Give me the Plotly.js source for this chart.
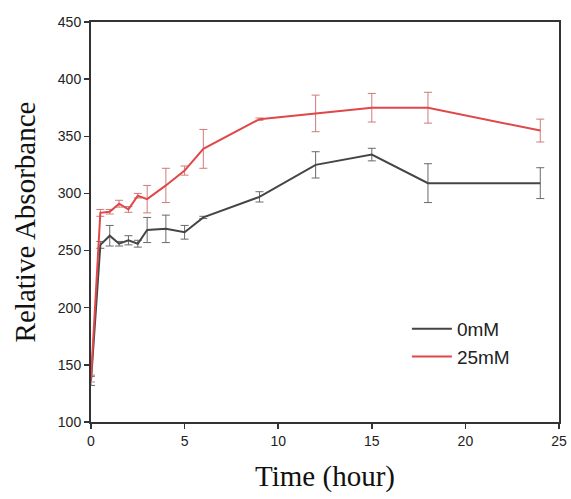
<!DOCTYPE html>
<html>
<head>
<meta charset="utf-8">
<script src="https://cdn.plot.ly/plotly-3.0.1.min.js"></script>
<style>html,body{margin:0;padding:0;background:#fff;}#chart{width:571px;height:499px;}</style>
</head>
<body>
<div id="chart"></div>
<script>
const time = [0, 0.5, 1, 1.5, 2, 2.5, 3, 4, 5, 6, 9, 12, 15, 18, 24];
const ctrlValues = [136, 255, 263, 256, 259, 256, 268, 269, 266, 279, 297, 325, 334, 309, 309];
const ctrlErrors = [4, 3, 9, 2, 4, 3, 11, 12, 6, 1, 4.5, 11.5, 5.5, 17, 13.5];
const treatValues = [138, 283, 284, 291, 286, 298, 295, 307, 320, 339, 365, 370, 375, 375, 355];
const treatErrors = [3, 3, 2, 3, 2.5, 2, 12, 15, 4, 17, 1, 16, 12.5, 13.5, 10];
const seriesNames = ['0mM', '25mM'];
const xTicks = [0, 5, 10, 15, 20, 25];
const yTicks = [100, 150, 200, 250, 300, 350, 400, 450];

const traces = [
  {
    x: time, y: ctrlValues, name: seriesNames[0], type: 'scatter', mode: 'lines',
    line: {color: '#454545', width: 2},
    error_y: {type: 'data', array: ctrlErrors, visible: true, color: '#6a6a6a', thickness: 1, width: 4}
  },
  {
    x: time, y: treatValues, name: seriesNames[1], type: 'scatter', mode: 'lines',
    line: {color: '#e04848', width: 2},
    error_y: {type: 'data', array: treatErrors, visible: true, color: '#cf7a7a', thickness: 1, width: 4}
  }
];

const layout = {
  width: 571, height: 499,
  margin: {l: 91, r: 12, t: 22, b: 77},
  paper_bgcolor: '#fff', plot_bgcolor: '#fff',
  showlegend: true,
  legend: {x: 0.675, y: 0.28, xanchor: 'left', yanchor: 'top', bgcolor: 'rgba(0,0,0,0)',
           font: {family: 'Liberation Sans, Arial, sans-serif', size: 19, color: '#222'},
           tracegroupgap: 0, itemwidth: 40},
  xaxis: {
    range: [0, 25], tickvals: xTicks, ticktext: xTicks.map(String),
    showgrid: false, zeroline: false, showline: true, mirror: true,
    linecolor: '#333', linewidth: 2, ticks: 'outside', ticklen: 5, tickcolor: '#333', tickwidth: 1.5,
    tickfont: {family: 'Liberation Sans, Arial, sans-serif', size: 14, color: '#222'},
    title: {text: 'Time (hour)', font: {family: 'Liberation Serif, Times New Roman, serif', size: 29, color: '#111'}, standoff: 18}
  },
  yaxis: {
    range: [100, 450], tickvals: yTicks, ticktext: yTicks.map(String),
    showgrid: false, zeroline: false, showline: true, mirror: true,
    linecolor: '#333', linewidth: 2, ticks: 'outside', ticklen: 5, tickcolor: '#333', tickwidth: 1.5,
    tickfont: {family: 'Liberation Sans, Arial, sans-serif', size: 14, color: '#222'},
    title: {text: 'Relative Absorbance', font: {family: 'Liberation Serif, Times New Roman, serif', size: 29, color: '#111'}, standoff: 14}
  }
};

Plotly.newPlot('chart', traces, layout, {displayModeBar: false, staticPlot: true});
</script>
</body>
</html>
